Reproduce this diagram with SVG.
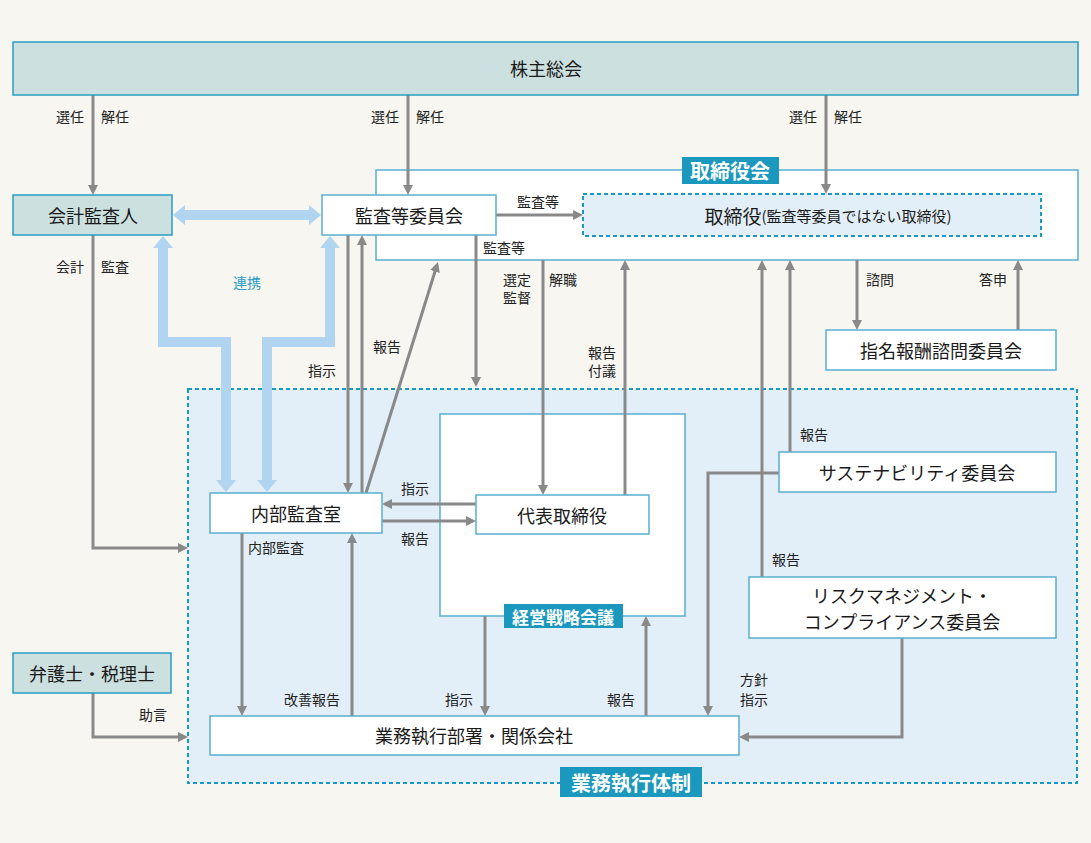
<svg xmlns="http://www.w3.org/2000/svg" width="1091" height="843" viewBox="0 0 1091 843">
<defs>
<style>
text{font-family:"Noto Sans CJK JP","Noto Sans CJK SC",sans-serif;}
.n{font-size:18px;fill:#1a1a1a;text-anchor:middle;dominant-baseline:central;}
.l{font-size:14px;fill:#222;}
.t{font-size:20px;fill:#fff;font-weight:bold;text-anchor:middle;dominant-baseline:central;}
.teal{fill:#cce0df;stroke:#2a9cc4;stroke-width:1.5;}
.box{fill:#fff;stroke:#5aaed0;stroke-width:1.5;}
.dash{fill:#e3eff8;stroke:#1a98bd;stroke-width:2;stroke-dasharray:4 3;}
.tag{fill:#1a98bd;}
.c{fill:none;stroke:#898989;stroke-width:3;marker-end:url(#ah);}
.b{fill:none;stroke:#b1d4f0;stroke-width:10;stroke-linejoin:miter;marker-start:url(#bh);marker-end:url(#bh);}
</style>
<marker id="ah" viewBox="0 0 10 10" refX="6" refY="5" markerWidth="10" markerHeight="10" markerUnits="userSpaceOnUse" orient="auto"><path d="M0,0 L10,5 L0,10 z" fill="#898989"/></marker>
<marker id="bh" viewBox="0 0 12 20" refX="0" refY="10" markerWidth="12" markerHeight="20" markerUnits="userSpaceOnUse" orient="auto-start-reverse"><path d="M0,0 L12,10 L0,20 z" fill="#b1d4f0"/></marker>
</defs>
<rect x="0" y="0" width="1091" height="843" fill="#f7f6f1"/>

<g id="board">
<rect x="376" y="170" width="702" height="90" class="box"/>
</g>
<g id="exec-area">
<rect x="188" y="389" width="889" height="394" class="dash"/>
</g>
<g id="strategy-meeting">
<rect x="440" y="414" width="245" height="202" class="box"/>
</g>

<g id="connectors">
<path class="c" d="M93,95 V191"/>
<path class="c" d="M408,95 V191"/>
<path class="c" d="M826,95 V190"/>
<path class="c" d="M93,235 V548 H184"/>
<path class="c" d="M496,215 H579"/>
<path class="c" d="M476,235 V383"/>
<path class="c" d="M543,260 V491"/>
<path class="c" d="M625,495 V264"/>
<path class="c" d="M762,577 V264"/>
<path class="c" d="M790,452 V264"/>
<path class="c" d="M857,260 V326"/>
<path class="c" d="M1018,330 V264"/>
<path class="c" d="M348,235 V489"/>
<path class="c" d="M362,493 V239"/>
<path class="c" d="M366,493 L436.8,265.8"/>
<path class="c" d="M476,504 H386"/>
<path class="c" d="M382,521 H472"/>
<path class="c" d="M242,533 V712"/>
<path class="c" d="M352,716 V537"/>
<path class="c" d="M485,616 V712"/>
<path class="c" d="M646,716 V620"/>
<path class="c" d="M779,473 H708 V712"/>
<path class="c" d="M902,638 V737 H743"/>
<path class="c" d="M93,693 V737 H184"/>
<path class="b" d="M185,215 H309"/>
<path class="b" d="M163,248 V342 H226 V480"/>
<path class="b" d="M330,248 V342 H267 V480"/>
</g>

<g id="labels">
<text class="l" x="56" y="122">選任</text>
<text class="l" x="101" y="122">解任</text>
<text class="l" x="371" y="122">選任</text>
<text class="l" x="416" y="122">解任</text>
<text class="l" x="789" y="122">選任</text>
<text class="l" x="834" y="122">解任</text>
<text class="l" x="56" y="272">会計</text>
<text class="l" x="101" y="272">監査</text>
<text class="l" x="517" y="207">監査等</text>
<text class="l" x="483" y="253">監査等</text>
<text class="l" x="503" y="285">選定</text>
<text class="l" x="503" y="303">監督</text>
<text class="l" x="549" y="285">解職</text>
<text class="l" x="588" y="358">報告</text>
<text class="l" x="588" y="376">付議</text>
<text class="l" x="866" y="285">諮問</text>
<text class="l" x="979" y="285">答申</text>
<text class="l" x="233" y="288" style="fill:#2a9cc4">連携</text>
<text class="l" x="308" y="376">指示</text>
<text class="l" x="373" y="352">報告</text>
<text class="l" x="401" y="494">指示</text>
<text class="l" x="401" y="544">報告</text>
<text class="l" x="248" y="553">内部監査</text>
<text class="l" x="800" y="440">報告</text>
<text class="l" x="772" y="565">報告</text>
<text class="l" x="740" y="685">方針</text>
<text class="l" x="740" y="705">指示</text>
<text class="l" x="284" y="705">改善報告</text>
<text class="l" x="445" y="705">指示</text>
<text class="l" x="607" y="705">報告</text>
<text class="l" x="139" y="720">助言</text>
</g>

<g id="shareholders">
<rect x="13" y="42" width="1065" height="53" class="teal"/>
<text class="n" x="546" y="68">株主総会</text>
</g>
<g id="accounting-auditor">
<rect x="13" y="195" width="159" height="40" class="teal"/>
<text class="n" x="93" y="215">会計監査人</text>
</g>
<g id="audit-committee">
<rect x="322" y="195" width="174" height="40" class="box"/>
<text class="n" x="409" y="215">監査等委員会</text>
</g>
<g id="directors">
<rect x="583" y="194" width="458" height="42" class="dash"/>
<text class="n" x="828" y="215"><tspan style="font-size:19px">取締役</tspan><tspan style="font-size:15px">(監査等委員ではない取締役)</tspan></text>
</g>
<g id="nomination-committee">
<rect x="826" y="330" width="230" height="40" class="box"/>
<text class="n" x="941" y="350">指名報酬諮問委員会</text>
</g>
<g id="internal-audit">
<rect x="210" y="493" width="172" height="40" class="box"/>
<text class="n" x="296" y="513">内部監査室</text>
</g>
<g id="representative">
<rect x="476" y="495" width="173" height="39" class="box"/>
<text class="n" x="562" y="515">代表取締役</text>
</g>
<g id="sustainability">
<rect x="779" y="452" width="277" height="40" class="box"/>
<text class="n" x="917" y="472">サステナビリティ委員会</text>
</g>
<g id="risk-compliance">
<rect x="749" y="577" width="307" height="61" class="box"/>
<text class="n" x="902" y="595">リスクマネジメント・</text>
<text class="n" x="902" y="621">コンプライアンス委員会</text>
</g>
<g id="lawyers">
<rect x="13" y="653" width="158" height="40" class="teal"/>
<text class="n" x="92" y="673">弁護士・税理士</text>
</g>
<g id="business-units">
<rect x="210" y="716" width="529" height="39" class="box"/>
<text class="n" x="474" y="735">業務執行部署・関係会社</text>
</g>

<g id="board-label">
<rect x="682" y="157" width="97" height="27" class="tag"/>
<text class="t" x="730" y="170">取締役会</text>
</g>
<g id="strategy-label">
<rect x="504" y="604" width="119" height="24" class="tag"/>
<text class="t" x="563" y="616" style="font-size:17px">経営戦略会議</text>
</g>
<g id="exec-label">
<rect x="560" y="767" width="142" height="30" class="tag"/>
<text class="t" x="631" y="782">業務執行体制</text>
</g>
</svg>
